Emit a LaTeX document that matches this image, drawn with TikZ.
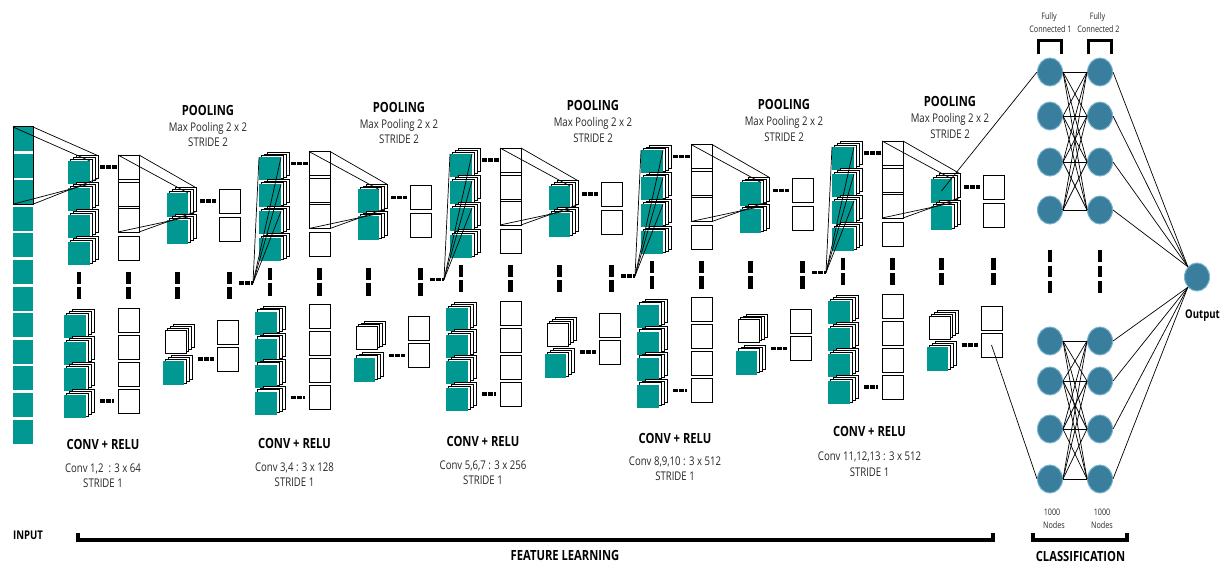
\documentclass[tikz,border=0pt]{standalone}
\usepackage{fontspec}
\setmainfont{Open Sans}
\newfontfamily\cond[FakeStretch=0.8]{Open Sans}
\usetikzlibrary{shapes.geometric,calc}
\definecolor{tealc}{RGB}{0,152,145}
\definecolor{fcb}{RGB}{58,126,158}
\definecolor{fce}{RGB}{120,178,205}
\tikzset{
 layer/.style={draw=black, fill=white, line width=0.6pt},
 tsq/.style={fill=tealc, draw=none, inner sep=0pt, outer sep=0pt},
 wsq/.style={fill=white, draw=black, line width=0.8pt, inner sep=0pt, outer sep=0pt},
 cn/.style={draw=black, line width=0.7pt},
 dsh/.style={line width=3.4pt, dash pattern=on 4.6pt off 1.6pt},
 bar/.style={fill=black},
 fc/.style={ellipse, fill=fcb, draw=fce, line width=1pt, minimum width=25pt, minimum height=28pt, inner sep=0pt},
 hd/.style={font=\cond\bfseries\fontsize{14}{14}\selectfont, inner sep=0pt, anchor=base},
 th/.style={font=\cond\fontsize{12}{12}\selectfont, inner sep=0pt, anchor=base, text=black!85},
 sm/.style={font=\cond\fontsize{9}{9}\selectfont, inner sep=0pt, anchor=base, text=black!85},
 brk/.style={line width=3.5pt},
}
\newcommand\layered[6]{%
  \foreach \k in {3,2,1}{\draw[layer] ($(#1,#2)+(2.6*\k,-1.8*\k)$) rectangle ++(#3,#4);}%
  \node[#5, minimum width=#3pt, minimum height=#4pt, anchor=north west] (#6) at (#1,#2) {};%
  \coordinate (#6-bne) at ($(#1,#2)+(7.8+#3,-5.4)$);%
  \coordinate (#6-bse) at ($(#1,#2)+(7.8+#3,-5.4+#4)$);%
}
\begin{document}
\begin{tikzpicture}[x=1pt,y=-1pt]
\useasboundingbox (0,0) rectangle (1224,564);

% ---------------- input column
\foreach \n in {0,...,11}
  \node[tsq, minimum width=20pt, minimum height=24pt, anchor=north west] (in\n) at (13,{127+26.6*\n}) {};
\draw[line width=1pt] (in0.north west) rectangle (in2.south east);

% ---------------- five feature stages
\foreach \i in {0,...,4}{
\begin{scope}[shift={(191*\i,-3.5*\i)}]
  % top row
  \foreach \yy [count=\n] in {161,188,215,242}{\layered{68}{\yy}{22}{23}{tsq}{ct\i-\n}}
  \foreach \yy [count=\n] in {155,182,208,236}
    \node[wsq, minimum width=21pt, minimum height=24pt, anchor=north west] (pt\i-\n) at (118,\yy) {};
  \draw[line width=0.9pt] (pt\i-1.north west) rectangle (pt\i-3.south east);
  \foreach \yy [count=\n] in {193,220}{\layered{167}{\yy}{21}{24}{tsq}{qt\i-\n}}
  \foreach \yy [count=\n] in {189,217}
    \node[wsq, minimum width=21pt, minimum height=24pt, anchor=north west] (wt\i-\n) at (219,\yy) {};
  \draw[cn] (pt\i-1.north west) -- (qt\i-1.north east);
  \draw[cn] (pt\i-1.north east) -- (qt\i-1-bne);
  \draw[cn] (pt\i-3.south west) -- (qt\i-1.south east);
  \draw[cn] (pt\i-3.south east) -- (qt\i-1-bse);
  \draw[dsh] ([xshift=-18pt]pt\i-1.west) -- ([xshift=-1pt]pt\i-1.west);
  \draw[dsh] ([xshift=-19pt]wt\i-1.west) -- ([xshift=-3pt]wt\i-1.west);
  % vertical dots
  \foreach \xx in {79,128.5,177.5,229.5}{
    \fill[bar] (\xx-2.2,272) rectangle (\xx+2.2,284);
    \fill[bar] (\xx-2.2,287) rectangle (\xx+2.2,299);}
  \ifnum\i<4
    \coordinate (md\i) at (253,283);
    \draw[dsh] ([xshift=-14pt]md\i) -- (md\i);
  \fi
  % bottom row
  \foreach \yy [count=\n] in {315,342,368,395}{\layered{64}{\yy}{22}{23}{tsq}{cb\i-\n}}
  \foreach \yy [count=\n] in {308,335,362,389}
    \node[wsq, minimum width=21pt, minimum height=24pt, anchor=north west] (pb\i-\n) at (118,\yy) {};
  \layered{165}{330}{21}{23}{wsq}{qb\i-1}
  \layered{163}{361}{21}{24}{tsq}{qb\i-2}
  \foreach \yy [count=\n] in {320,347}
    \node[wsq, minimum width=21pt, minimum height=24pt, anchor=north west] (wb\i-\n) at (217,\yy) {};
  \draw[dsh] ([xshift=-18pt]pb\i-4.west) -- ([xshift=-4pt]pb\i-4.west);
  \draw[dsh] ([xshift=-19pt]wb\i-2.west) -- ([xshift=-3pt]wb\i-2.west);
\end{scope}}

% input projection
\draw[cn] (in0.north west) -- (ct0-1.north east);
\draw[cn] (in0.north east) -- (ct0-1-bne);
\draw[cn] (in2.south west) -- (ct0-1.south east);
\draw[cn] (in2.south east) -- (ct0-1-bse);

% fan lines between stages
\foreach \i/\j in {0/1,1/2,2/3,3/4}{
  \draw[cn] (md\i) -- (ct\j-1.north west);
  \draw[cn] (md\i) -- (ct\j-1.north east);
  \draw[cn] (md\i) -- (ct\j-2.north east);
  \draw[cn] (md\i) -- (ct\j-3.north east);
}

% ---------------- stage texts
\node[hd] (pool1) at (208,116) {POOLING};
\node[th] (poolm1) at (208,131.5) {Max Pooling 2 x 2};
\node[th] (pools1) at (208,147) {STRIDE 2};
\node[hd] (pool2) at (399,113) {POOLING};
\node[th] (poolm2) at (399,128.5) {Max Pooling 2 x 2};
\node[th] (pools2) at (399,144) {STRIDE 2};
\node[hd] (pool3) at (593,111) {POOLING};
\node[th] (poolm3) at (593,127) {Max Pooling 2 x 2};
\node[th] (pools3) at (593,143) {STRIDE 2};
\node[hd] (pool4) at (784,110) {POOLING};
\node[th] (poolm4) at (784,126) {Max Pooling 2 x 2};
\node[th] (pools4) at (784,142) {STRIDE 2};
\node[hd] (pool5) at (950,107) {POOLING};
\node[th] (poolm5) at (950,123) {Max Pooling 2 x 2};
\node[th] (pools5) at (950,139) {STRIDE 2};

\node[hd] (conv1) at (103,449) {CONV + RELU};
\node[th] (convm1) at (103,472) {Conv 1,2\ \ : 3 x 64};
\node[th] (convs1) at (103,487) {STRIDE 1};
\node[hd] (conv2) at (294.5,448) {CONV + RELU};
\node[th] (convm2) at (294.5,471) {Conv 3,4 : 3 x 128};
\node[th] (convs2) at (294.5,486) {STRIDE 1};
\node[hd] (conv3) at (483,446) {CONV + RELU};
\node[th] (convm3) at (483,469) {Conv 5,6,7 : 3 x 256};
\node[th] (convs3) at (483,484) {STRIDE 1};
\node[hd] (conv4) at (675,443) {CONV + RELU};
\node[th] (convm4) at (675,465) {Conv 8,9,10 : 3 x 512};
\node[th] (convs4) at (675,480) {STRIDE 1};
\node[hd] (conv5) at (869.5,436) {CONV + RELU};
\node[th] (convm5) at (869.5,460.5) {Conv 11,12,13 : 3 x 512};
\node[th] (convs5) at (869.5,476) {STRIDE 1};

% ---------------- classification
\foreach \yy [count=\n] in {72,116,162,210,341,381,429,479}{
  \node[fc] (fa\n) at (1050,\yy) {};
  \node[fc] (fb\n) at (1100,\yy) {};
}
\node[fc] (out) at (1197,277) {};
\foreach \a in {1,...,4}{\foreach \b in {1,...,4}{\draw[cn] (fa\a.east) -- (fb\b.west);}}
\foreach \a in {5,...,8}{\foreach \b in {5,...,8}{\draw[cn] (fa\a.east) -- (fb\b.west);}}
\foreach \a in {1,...,4}{\draw[cn] (fb\a.east) -- (out.north west);}
\foreach \a in {5,...,8}{\draw[cn] (fb\a.east) -- (out.south west);}
\draw[cn] (qt4-1.center) -- (fa1.west);
\draw[cn] (wb4-2.center) -- (fa8.west);
\foreach \xx in {1050,1100}{
  \fill[bar] (\xx-2.4,250) rectangle (\xx+2.4,262);
  \fill[bar] (\xx-2.4,266) rectangle (\xx+2.4,277);
  \fill[bar] (\xx-2.4,281) rectangle (\xx+2.4,293);}
\draw[brk] ($(fa1.north)+(-11.5,-3)$) -- ++(0,-14) -- ++(23,0) -- ++(0,14);
\draw[brk] ($(fb1.north)+(-11.5,-3)$) -- ++(0,-14) -- ++(23,0) -- ++(0,14);
\node[sm] (full1) at (1049,19.5) {Fully};
\node[sm] (conn1) at (1050.5,33) {Connected 1};
\node[sm] (full2) at (1097.5,19.5) {Fully};
\node[sm] (conn2) at (1098.5,33) {Connected 2};
\node[sm] (n1a) at (1052,515) {1000};
\node[sm] (n1b) at (1054,528) {Nodes};
\node[sm] (n2a) at (1102,515) {1000};
\node[sm] (n2b) at (1102,528) {Nodes};
\node[font=\cond\bfseries\fontsize{12}{12}\selectfont, inner sep=0pt, anchor=base] (outl) at (1202.5,318) {Output};

% ---------------- bottom brackets
\node[font=\cond\bfseries\fontsize{12}{12}\selectfont, inner sep=0pt, anchor=base] (inl) at (28,539) {INPUT};
\draw[line width=4pt] (78,533) -- (78,540) -- (993,540) -- (993,533);
\node[hd] (feat) at (565,560) {FEATURE LEARNING};
\draw[line width=4pt] (1033,533) -- (1033,540) -- (1127,540) -- (1127,533);
\node[hd] (cls) at (1080.5,561) {CLASSIFICATION};
\end{tikzpicture}
\end{document}
